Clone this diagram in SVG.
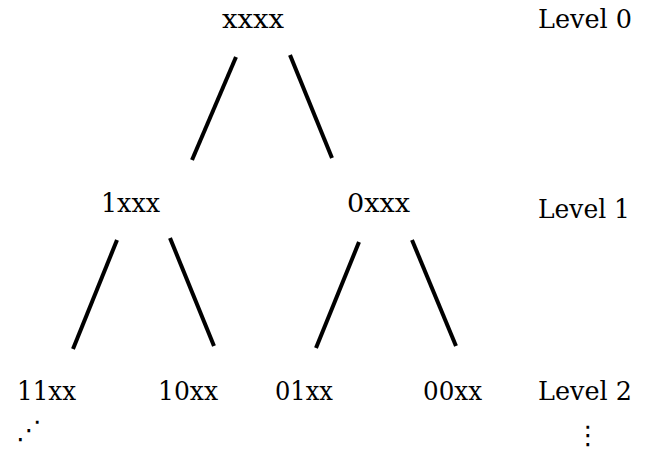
<svg xmlns="http://www.w3.org/2000/svg" width="648" height="450" viewBox="0 0 648 450">
<style>
.edge { stroke: #000; stroke-width: 4; stroke-linecap: butt; fill: none; }
.t { font-family: "DejaVu Serif", "Liberation Serif", serif; font-size: 26px; fill: #000; }
.d { font-family: "DejaVu Sans", sans-serif; font-size: 26px; fill: #000; }
</style>
<rect width="648" height="450" fill="#fff"/>
<g id="connectors">
<line class="edge" x1="236" y1="57" x2="192" y2="160"/>
<line class="edge" x1="290" y1="55" x2="332" y2="158"/>
<line class="edge" x1="117" y1="240" x2="73" y2="349"/>
<line class="edge" x1="170" y1="238" x2="214" y2="346"/>
<line class="edge" x1="359" y1="242" x2="316" y2="348"/>
<line class="edge" x1="412" y1="240" x2="456" y2="346"/>
</g>
<g id="n-xxxx"><text class="t" x="222" y="28" textLength="62" lengthAdjust="spacingAndGlyphs">xxxx</text></g>
<g id="n-1xxx"><text class="t" x="101" y="212" textLength="59" lengthAdjust="spacingAndGlyphs">1xxx</text></g>
<g id="n-0xxx"><text class="t" x="347" y="212" textLength="63" lengthAdjust="spacingAndGlyphs">0xxx</text></g>
<g id="n-11xx"><text class="t" x="17" y="400" textLength="59" lengthAdjust="spacingAndGlyphs">11xx</text></g>
<g id="n-10xx"><text class="t" x="158" y="400" textLength="60" lengthAdjust="spacingAndGlyphs">10xx</text></g>
<g id="n-01xx"><text class="t" x="275" y="400" textLength="58" lengthAdjust="spacingAndGlyphs">01xx</text></g>
<g id="n-00xx"><text class="t" x="423" y="400" textLength="59" lengthAdjust="spacingAndGlyphs">00xx</text></g>
<g id="levels">
<text class="t" x="538" y="28" textLength="94" lengthAdjust="spacingAndGlyphs">Level 0</text>
<text class="t" x="538" y="218" textLength="92" lengthAdjust="spacingAndGlyphs">Level 1</text>
<text class="t" x="538" y="400" textLength="94" lengthAdjust="spacingAndGlyphs">Level 2</text>
</g>
<g id="ellipses">
<text class="d" x="29" y="439" text-anchor="middle">⋰</text>
<text class="d" x="588" y="444" text-anchor="middle">⋮</text>
</g>
</svg>
